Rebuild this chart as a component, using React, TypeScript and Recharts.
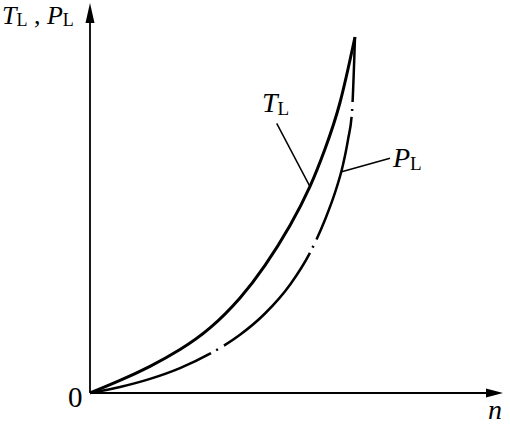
import React from "react"
import { LineChart, Line, XAxis, YAxis, ReferenceDot, ReferenceLine } from "recharts"

// speed n (arbitrary units) and the two curves
const tlN = [0, 30, 60, 90, 120, 150, 175, 200, 220, 235, 250, 265]
const tlValues = [0, 12.6, 26.7, 43.5, 65.1, 95.1, 127.6, 167.6, 206.6, 244, 290.5, 356]

const plN = [0, 30, 60, 90, 120, 150, 175, 200, 220, 235, 245, 253, 258, 262, 265]
const plValues = [0, 6, 14.1, 24.9, 39.3, 58.2, 79.5, 108.3, 140.3, 173.3, 200.3, 228.3, 253.3, 281.3, 356]

const tlData = tlN.map((n, i) => ({ n, v: tlValues[i] }))
const plData = plN.map((n, i) => ({ n, v: plValues[i] }))

const FONT = '"Liberation Serif", "Times New Roman", serif'

// label with italic main letter and upright subscript
const subLabel = (main: string, sub: string, size = 28) =>
  (props: any) => (
    <text x={props.cx} y={props.cy} style={{ fontFamily: FONT, fontSize: size }} fill="#000">
      <tspan fontStyle="italic">{main}</tspan>
      <tspan style={{ fontSize: size * 0.68 }} dy={3}>{sub}</tspan>
    </text>
  )

export default function App() {
  return (
    <div style={{ position: "absolute", left: 0, top: 0, background: "#fff" }}>
      <LineChart
        width={510}
        height={426}
        margin={{ top: 3, right: 7, bottom: 33, left: 90 }}
      >
        <XAxis dataKey="n" type="number" domain={[0, 413]} hide />
        <YAxis type="number" domain={[0, 390]} hide />
        {/* axes */}
        <ReferenceLine
          segment={[{ x: 0, y: 0 }, { x: 400, y: 0 }]}
          stroke="#000"
          strokeWidth={1.8}
          ifOverflow="visible"
        />
        <ReferenceLine
          segment={[{ x: 0, y: 0 }, { x: 0, y: 375 }]}
          stroke="#000"
          strokeWidth={1.8}
          ifOverflow="visible"
        />
        <Line
          data={tlData}
          dataKey="v"
          type="natural"
          stroke="#000"
          strokeWidth={3}
          dot={false}
          activeDot={false}
          isAnimationActive={false}
        />
        <Line
          data={plData}
          dataKey="v"
          type="monotone"
          stroke="#000"
          strokeWidth={2.5}
          strokeDasharray="128 6 2 7"
          dot={false}
          activeDot={false}
          isAnimationActive={false}
        />
        {/* leader lines */}
        <ReferenceLine
          segment={[{ x: 186.7, y: 269.7 }, { x: 220, y: 206.3 }]}
          stroke="#000"
          strokeWidth={1.5}
          ifOverflow="visible"
        />
        <ReferenceLine
          segment={[{ x: 251.7, y: 221.3 }, { x: 300, y: 234.7 }]}
          stroke="#000"
          strokeWidth={1.5}
          ifOverflow="visible"
        />
        {/* arrow heads */}
        <ReferenceDot
          x={413}
          y={0}
          ifOverflow="visible"
          shape={(p: any) => (
            <polygon points={`${p.cx},${p.cy} ${p.cx - 17},${p.cy - 4.5} ${p.cx - 17},${p.cy + 4.5}`} fill="#000" />
          )}
        />
        <ReferenceDot
          x={0}
          y={390}
          ifOverflow="visible"
          shape={(p: any) => (
            <polygon points={`${p.cx},${p.cy} ${p.cx - 4.5},${p.cy + 20} ${p.cx + 4.5},${p.cy + 20}`} fill="#000" />
          )}
        />
        {/* texts */}
        <ReferenceDot x={172} y={281} ifOverflow="visible" shape={subLabel("T", "L")} />
        <ReferenceDot x={303} y={226} ifOverflow="visible" shape={subLabel("P", "L")} />
        <ReferenceDot
          x={0}
          y={390}
          ifOverflow="visible"
          shape={(p: any) => (
            <text x={p.cx - 88} y={p.cy + 21} style={{ fontFamily: FONT, fontSize: 26 }} fill="#000">
              <tspan fontStyle="italic">T</tspan>
              <tspan style={{ fontSize: 18 }} dy={2}>L</tspan>
              <tspan dy={-2}>{" , "}</tspan>
              <tspan fontStyle="italic">P</tspan>
              <tspan style={{ fontSize: 18 }} dy={2}>L</tspan>
            </text>
          )}
        />
        <ReferenceDot
          x={0}
          y={0}
          ifOverflow="visible"
          shape={(p: any) => (
            <text x={p.cx - 22} y={p.cy + 14} style={{ fontFamily: FONT, fontSize: 29 }} fill="#000">
              0
            </text>
          )}
        />
        <ReferenceDot
          x={413}
          y={0}
          ifOverflow="visible"
          shape={(p: any) => (
            <text x={p.cx - 15} y={p.cy + 26} style={{ fontFamily: FONT, fontSize: 28, fontStyle: "italic" }} fill="#000">
              n
            </text>
          )}
        />
      </LineChart>
    </div>
  )
}
